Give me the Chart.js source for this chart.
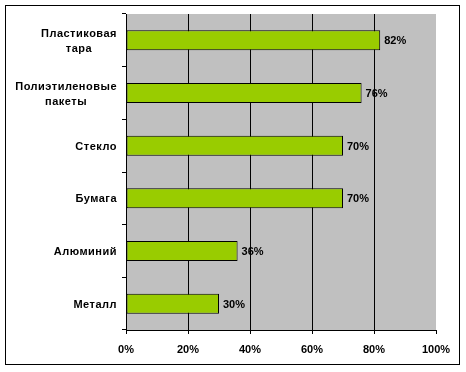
<!DOCTYPE html>
<html>
<head>
<meta charset="utf-8">
<script src="https://cdn.jsdelivr.net/npm/chart.js@4.4.1/dist/chart.umd.min.js"></script>
<style>
  html, body { margin:0; padding:0; background:#fff; }
  #wrap { width:466px; height:372px; position:relative; }
</style>
</head>
<body>
<div id="wrap"><canvas id="c" width="466" height="372"></canvas></div>
<script>
// категории и значения (в %)
const categories = [
    ['Пластиковая','тара'],
    ['Полиэтиленовые','пакеты'],
    ['Стекло'],
    ['Бумага'],
    ['Алюминий'],
    ['Металл']
]
const values = [82, 76, 70, 70, 36, 30]
const xTicks = [0, 20, 40, 60, 80, 100]

const FONT = 'bold 11px "Liberation Sans", Arial, sans-serif'

// рамка вокруг всей диаграммы + серый фон области построения
const bgPlugin = {
    id:'bg',
    beforeDraw(chart){
        const ctx = chart.ctx
        const a = chart.chartArea
        ctx.save()
        ctx.fillStyle = '#fff'
        ctx.fillRect(0,0,chart.width,chart.height)
        ctx.strokeStyle = '#000'
        ctx.lineWidth = 1
        ctx.strokeRect(5.5,5.5,454,359)
        ctx.fillStyle = '#c0c0c0'
        ctx.fillRect(a.left,a.top,a.right-a.left,a.bottom-a.top)
        ctx.restore()
    }
}

// подписи значений справа от столбиков
const valueLabels = {
    id:'valueLabels',
    afterDatasetsDraw(chart){
        const ctx = chart.ctx
        const meta = chart.getDatasetMeta(0)
        ctx.save()
        ctx.font = FONT
        ctx.fillStyle = '#000'
        ctx.textAlign = 'left'
        ctx.textBaseline = 'middle'
        meta.data.forEach((bar,i) => {
            ctx.fillText(values[i] + '%', bar.x + 4, bar.y + 1)
        })
        ctx.restore()
    }
}

// подписи категорий: строки центрируются между собой, блок прижат вправо
const catLabels = {
    id:'catLabels',
    afterDraw(chart){
        const ctx = chart.ctx
        const y = chart.scales.y
        const right = y.right - 9
        ctx.save()
        ctx.font = FONT
        ctx.fillStyle = '#000'
        ctx.textAlign = 'center'
        ctx.textBaseline = 'middle'
        ctx.letterSpacing = '0.5px'
        categories.forEach((lines,i) => {
            const cy = y.getPixelForValue(i)
            const w = Math.max(...lines.map(l => ctx.measureText(l).width))
            const cx = right - w/2
            const lh = 15
            lines.forEach((l,k) => {
                ctx.fillText(l, cx, cy + (k - (lines.length-1)/2)*lh + 1)
            })
        })
        ctx.restore()
    }
}

new Chart(document.getElementById('c'),{
    type:'bar',
    data:{
        labels: categories,
        datasets:[{
            data: values,
            backgroundColor:'#99cc00',
            borderColor:'#000',
            borderWidth:1,
            borderSkipped:false,
            categoryPercentage:1,
            barPercentage:0.38
        }]
    },
    options:{
        indexAxis:'y',
        responsive:false,
        animation:false,
        devicePixelRatio:1,
        layout:{ padding:{ top:14, right:30, left:0, bottom:0 }},
        plugins:{ legend:{display:false}, tooltip:{enabled:false} },
        scales:{
            x:{
                min:0, max:100,
                afterBuildTicks(s){ s.ticks = xTicks.map(v => ({value:v})) },
                afterFit(s){ s.height = 42 },
                border:{ display:true, color:'#000', width:1 },
                grid:{
                    color: c => (c.tick && c.tick.value === 100) || c.index === 0 ? 'rgba(0,0,0,0)' : '#000',
                    tickColor:'#000',
                    tickLength:4,
                    lineWidth:1
                },
                ticks:{
                    color:'#000',
                    font:{ family:'"Liberation Sans", Arial, sans-serif', size:11, weight:'bold' },
                    padding:9,
                    callback: v => v + '%'
                }
            },
            y:{
                afterFit(s){ s.width = 126 },
                border:{ display:true, color:'#000', width:1 },
                grid:{
                    offset:true,
                    drawOnChartArea:false,
                    color:'#000',
                    tickLength:4
                },
                ticks:{ display:false }
            }
        }
    },
    plugins:[bgPlugin, valueLabels, catLabels]
})
</script>
</body>
</html>
